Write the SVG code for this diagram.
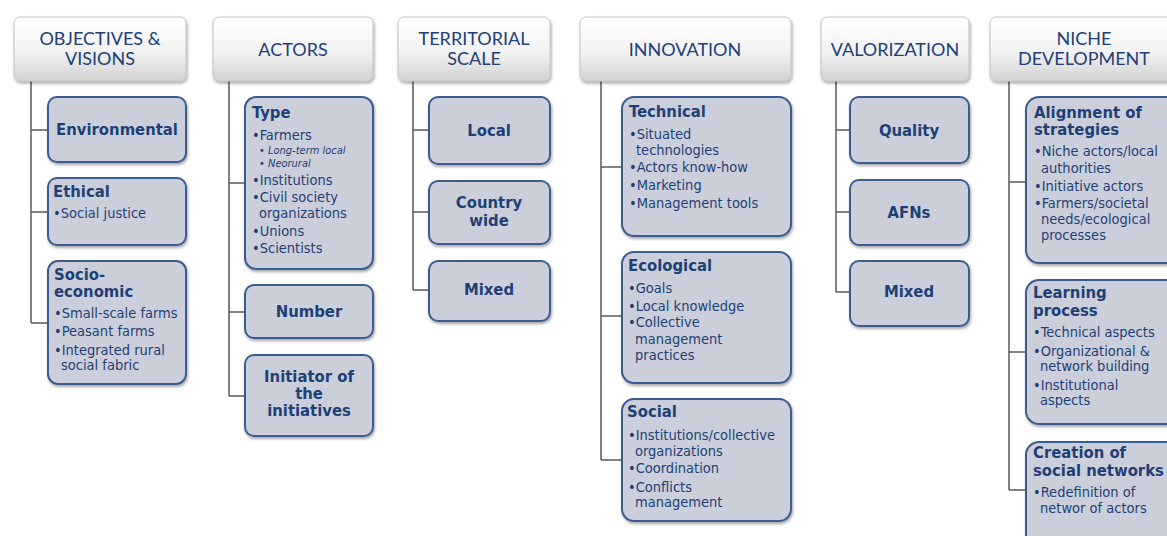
<svg xmlns="http://www.w3.org/2000/svg" width="1167" height="536" viewBox="0 0 1167 536">
<defs>
<linearGradient id="hg" x1="0" y1="0" x2="0" y2="1">
<stop offset="0" stop-color="#ffffff"/>
<stop offset="0.55" stop-color="#f2f2f2"/>
<stop offset="1" stop-color="#d2d2d2"/>
</linearGradient>
<filter id="sh" x="-10%" y="-10%" width="130%" height="130%">
<feDropShadow dx="1" dy="2" stdDeviation="1.5" flood-color="#000" flood-opacity="0.35"/>
</filter>
</defs>
<style>
.hd{fill:url(#hg);stroke:#c4c4c4;stroke-width:1;filter:url(#sh)}
.bx{fill:#cbcfd9;stroke:#3b5c8f;stroke-width:2;filter:url(#sh)}
.ht{font-family:Lato,"Liberation Sans",sans-serif;font-size:18px;fill:#21407a;text-anchor:middle}
.tt{font-family:"DejaVu Sans Condensed","DejaVu Sans",sans-serif;font-stretch:condensed;font-size:16.5px;font-weight:bold;fill:#1f3f78}
.ct{text-anchor:middle}
.bt{font-family:"DejaVu Sans Condensed","DejaVu Sans",sans-serif;font-stretch:condensed;font-size:14.5px;fill:#1f3f78}
.it{font-family:"DejaVu Sans Condensed","DejaVu Sans",sans-serif;font-stretch:condensed;font-size:11px;font-style:italic;fill:#1f3f78}
.cn{fill:none;stroke:#5a5a5a;stroke-width:1.5}
</style>
<rect width="1167" height="536" fill="#ffffff"/>

<g id="connectors">
<path class="cn" d="M31,81 V323 M31,130 H48 M31,212 H48 M31,323 H48"/>
<path class="cn" d="M229,81 V396 M229,183 H245 M229,312 H245 M229,396 H245"/>
<path class="cn" d="M413,81 V290 M413,130 H429 M413,212 H429 M413,290 H429"/>
<path class="cn" d="M601,81 V460 M601,167 H622 M601,316 H622 M601,460 H622"/>
<path class="cn" d="M836,81 V292 M836,130 H850 M836,212 H850 M836,292 H850"/>
<path class="cn" d="M1009,81 V490 M1009,182 H1026 M1009,352 H1026 M1009,490 H1026"/>
</g>

<g id="h-objectives"><rect class="hd" x="14" y="17" width="172" height="64" rx="6"/>
<text class="ht" x="100" y="45">OBJECTIVES &amp;</text><text class="ht" x="100" y="65">VISIONS</text></g>
<g id="h-actors"><rect class="hd" x="213" y="17" width="160" height="64" rx="6"/>
<text class="ht" x="293" y="56">ACTORS</text></g>
<g id="h-territorial"><rect class="hd" x="398" y="17" width="152" height="64" rx="6"/>
<text class="ht" x="474" y="45">TERRITORIAL</text><text class="ht" x="474" y="65">SCALE</text></g>
<g id="h-innovation"><rect class="hd" x="580" y="17" width="211" height="64" rx="6"/>
<text class="ht" x="685" y="56">INNOVATION</text></g>
<g id="h-valorization"><rect class="hd" x="821" y="17" width="148" height="64" rx="6"/>
<text class="ht" x="895" y="56">VALORIZATION</text></g>
<g id="h-niche"><rect class="hd" x="990" y="17" width="190" height="64" rx="6"/>
<text class="ht" x="1084" y="45">NICHE</text><text class="ht" x="1084" y="65">DEVELOPMENT</text></g>

<g id="n-environmental"><rect class="bx" x="48" y="97" width="138" height="65" rx="9"/>
<text class="tt ct" x="117" y="135">Environmental</text></g>
<g id="n-ethical"><rect class="bx" x="48" y="178" width="138" height="67" rx="9"/>
<text class="tt" x="53" y="197">Ethical</text>
<text class="bt" x="53" y="218">•Social justice</text></g>
<g id="n-socio"><rect class="bx" x="48" y="261" width="138" height="123" rx="10"/>
<text class="tt" x="54" y="280">Socio-</text><text class="tt" x="54" y="297">economic</text>
<text class="bt" x="54" y="318">•Small-scale farms</text>
<text class="bt" x="54" y="336">•Peasant farms</text>
<text class="bt" x="54" y="355">•Integrated rural</text>
<text class="bt" x="61" y="370">social fabric</text></g>

<g id="n-type"><rect class="bx" x="245" y="97" width="128" height="172" rx="11"/>
<text class="tt" x="252" y="118">Type</text>
<text class="bt" x="252" y="140">•Farmers</text>
<text class="it" x="259" y="154">• Long-term local</text>
<text class="it" x="259" y="167">• Neorural</text>
<text class="bt" x="252" y="185">•Institutions</text>
<text class="bt" x="252" y="202">•Civil society</text>
<text class="bt" x="259" y="218">organizations</text>
<text class="bt" x="252" y="236">•Unions</text>
<text class="bt" x="252" y="253">•Scientists</text></g>
<g id="n-number"><rect class="bx" x="245" y="285" width="128" height="53" rx="9"/>
<text class="tt ct" x="309" y="317">Number</text></g>
<g id="n-initiator"><rect class="bx" x="245" y="355" width="128" height="81" rx="9"/>
<text class="tt ct" x="309" y="382">Initiator of</text>
<text class="tt ct" x="309" y="399">the</text>
<text class="tt ct" x="309" y="416">initiatives</text></g>

<g id="n-local"><rect class="bx" x="429" y="97" width="121" height="67" rx="9"/>
<text class="tt ct" x="489" y="136">Local</text></g>
<g id="n-country"><rect class="bx" x="429" y="181" width="121" height="63" rx="9"/>
<text class="tt ct" x="489" y="208">Country</text>
<text class="tt ct" x="489" y="226">wide</text></g>
<g id="n-mixed1"><rect class="bx" x="429" y="261" width="121" height="60" rx="9"/>
<text class="tt ct" x="489" y="295">Mixed</text></g>

<g id="n-technical"><rect class="bx" x="622" y="97" width="169" height="139" rx="12"/>
<text class="tt" x="629" y="117">Technical</text>
<text class="bt" x="629" y="139">•Situated</text>
<text class="bt" x="636" y="155">technologies</text>
<text class="bt" x="629" y="172">•Actors know-how</text>
<text class="bt" x="629" y="190">•Marketing</text>
<text class="bt" x="629" y="208">•Management tools</text></g>
<g id="n-ecological"><rect class="bx" x="622" y="252" width="169" height="131" rx="12"/>
<text class="tt" x="628" y="271">Ecological</text>
<text class="bt" x="628" y="293">•Goals</text>
<text class="bt" x="628" y="311">•Local knowledge</text>
<text class="bt" x="628" y="327">•Collective</text>
<text class="bt" x="635" y="344">management</text>
<text class="bt" x="635" y="360">practices</text></g>
<g id="n-social"><rect class="bx" x="622" y="399" width="169" height="122" rx="12"/>
<text class="tt" x="627" y="417">Social</text>
<text class="bt" x="628" y="440">•Institutions/collective</text>
<text class="bt" x="635" y="456">organizations</text>
<text class="bt" x="628" y="473">•Coordination</text>
<text class="bt" x="628" y="492">•Conflicts</text>
<text class="bt" x="635" y="507">management</text></g>

<g id="n-quality"><rect class="bx" x="850" y="97" width="119" height="66" rx="9"/>
<text class="tt ct" x="909" y="136">Quality</text></g>
<g id="n-afns"><rect class="bx" x="850" y="180" width="119" height="65" rx="9"/>
<text class="tt ct" x="909" y="218">AFNs</text></g>
<g id="n-mixed2"><rect class="bx" x="850" y="261" width="119" height="65" rx="9"/>
<text class="tt ct" x="909" y="297">Mixed</text></g>

<g id="n-alignment"><rect class="bx" x="1026" y="97" width="160" height="166" rx="13"/>
<text class="tt" x="1034" y="118">Alignment of</text>
<text class="tt" x="1034" y="135">strategies</text>
<text class="bt" x="1034" y="156">•Niche actors/local</text>
<text class="bt" x="1041" y="173">authorities</text>
<text class="bt" x="1034" y="191">•Initiative actors</text>
<text class="bt" x="1034" y="208">•Farmers/societal</text>
<text class="bt" x="1041" y="224">needs/ecological</text>
<text class="bt" x="1041" y="240">processes</text></g>
<g id="n-learning"><rect class="bx" x="1026" y="280" width="160" height="144" rx="13"/>
<text class="tt" x="1033" y="298">Learning</text>
<text class="tt" x="1033" y="316">process</text>
<text class="bt" x="1033" y="337">•Technical aspects</text>
<text class="bt" x="1033" y="356">•Organizational &amp;</text>
<text class="bt" x="1040" y="371">network building</text>
<text class="bt" x="1033" y="390">•Institutional</text>
<text class="bt" x="1040" y="405">aspects</text></g>
<g id="n-creation"><rect class="bx" x="1026" y="442" width="160" height="110" rx="13"/>
<text class="tt" x="1033" y="458">Creation of</text>
<text class="tt" x="1033" y="476">social networks</text>
<text class="bt" x="1033" y="497">•Redefinition of</text>
<text class="bt" x="1040" y="513">networ of actors</text></g>
</svg>
